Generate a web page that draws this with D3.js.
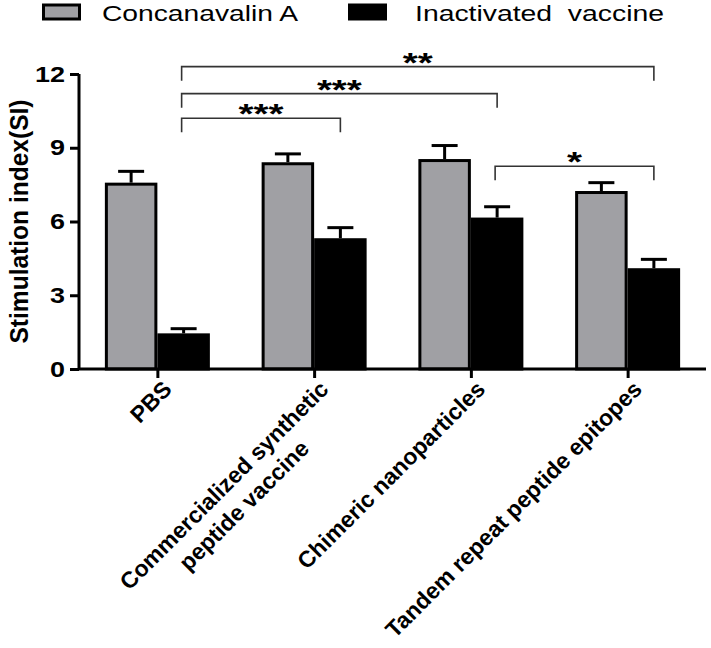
<!DOCTYPE html>
<html>
<head>
<meta charset="utf-8">
<script src="https://cdn.jsdelivr.net/npm/d3@7/dist/d3.min.js"></script>
<style>
  html, body { margin: 0; padding: 0; background: #fff; }
  svg text { font-family: "Liberation Sans", Arial, sans-serif; }
</style>
</head>
<body>
<div id="chart"></div>
<script>
// ---- data ----
const categories = ["PBS", "Commercialized synthetic|peptide vaccine", "Chimeric nanoparticles", "Tandem repeat peptide epitopes"];
const seriesNames = ["Concanavalin A", "Inactivated  vaccine"];
const conA = [7.58, 8.41, 8.54, 7.24];
const conAErr = [0.46, 0.34, 0.55, 0.34];
const inact = [1.45, 5.32, 6.16, 4.10];
const inactErr = [0.19, 0.43, 0.44, 0.36];
const yTicks = [0, 3, 6, 9, 12];
const yTitle = "Stimulation index(SI)";
// significance brackets: from category index to category index (Inactivated bars), level in SI units
const bracketFrom = [0, 0, 0, 2];
const bracketTo = [1, 2, 3, 3];
const bracketLevel = [10.2, 11.2, 12.3, 8.25];
const bracketLabel = ["***", "***", "**", "*"];

// ---- layout ----
const W = 711, H = 648;
const svg = d3.select("#chart").append("svg").attr("width", W).attr("height", H);

const y = d3.scaleLinear().domain([0, 12]).range([369, 74]);
const x = d3.scalePoint().domain(categories).range([79, 706]).padding(0.5);
const sub = d3.scaleBand().domain(seriesNames).range([-52.5, 52.5]);
const colors = d3.scaleOrdinal().domain(seriesNames).range(["#a0a0a4", "#000000"]);

const rows = [];
categories.forEach((c, i) => {
  rows.push({ c, s: seriesNames[0], v: conA[i], e: conAErr[i] });
  rows.push({ c, s: seriesNames[1], v: inact[i], e: inactErr[i] });
});

// error bars
const eb = svg.append("g").attr("stroke", "#000").attr("stroke-width", 3);
rows.forEach(d => {
  const cx = x(d.c) + sub(d.s) + sub.bandwidth() / 2;
  eb.append("line").attr("x1", cx).attr("x2", cx).attr("y1", y(d.v)).attr("y2", y(d.v + d.e));
  eb.append("line").attr("x1", cx - 13).attr("x2", cx + 13).attr("y1", y(d.v + d.e)).attr("y2", y(d.v + d.e));
});

// bars
svg.append("g").selectAll("rect").data(rows).join("rect")
  .attr("x", d => x(d.c) + sub(d.s) + 1.5)
  .attr("width", sub.bandwidth() - 3)
  .attr("y", d => y(d.v) + 1.5)
  .attr("height", d => y(0) - y(d.v) - 1.5)
  .attr("fill", d => colors(d.s))
  .attr("stroke", "#000").attr("stroke-width", 3);

// y axis
const yAxis = svg.append("g").attr("transform", "translate(79,0)")
  .call(d3.axisLeft(y).tickValues(yTicks).tickSize(9).tickPadding(5).tickFormat(d3.format("d")));
yAxis.select(".domain").attr("d", `M0,${y(12)}V${y(0)}`).attr("stroke-width", 3).attr("stroke", "#000");
yAxis.selectAll(".tick line").attr("stroke-width", 3).attr("stroke", "#000");
yAxis.selectAll(".tick text").attr("font-size", 22).attr("font-weight", "bold").attr("fill", "#000")
  .attr("font-family", "Liberation Sans, Arial, sans-serif")
  .each(function () { const t = d3.select(this); const n = t.text().length; t.attr("textLength", n * 15).attr("lengthAdjust", "spacingAndGlyphs"); });

// x axis
const xAxis = svg.append("g").attr("transform", `translate(0,${y(0)})`)
  .call(d3.axisBottom(x).tickSize(9).tickFormat(""));
xAxis.select(".domain").attr("d", "M79,0H706").attr("stroke-width", 3).attr("stroke", "#000");
xAxis.selectAll(".tick line").attr("stroke-width", 3).attr("stroke", "#000");

// x labels
const xl = svg.append("g");
categories.forEach(c => {
  const lines = c.split("|");
  const g = xl.append("g").attr("transform", `translate(${x(c) + 4},${y(0) + 10}) rotate(-45)`);
  const t1 = g.append("text").attr("text-anchor", "end").attr("dy", "0.72em")
    .attr("font-size", 23).attr("font-weight", "bold").text(lines[0]);
  if (lines.length > 1) {
    const w1 = t1.node().getComputedTextLength();
    g.append("text").attr("text-anchor", "middle").attr("x", -w1 / 2).attr("dy", "1.95em")
      .attr("font-size", 23).attr("font-weight", "bold").text(lines[1]);
  }
});

// y title
svg.append("text").attr("transform", `translate(28,${(y(0) + y(12)) / 2}) rotate(-90)`)
  .attr("text-anchor", "middle").attr("font-size", 25).attr("font-weight", "bold")
  .attr("textLength", 244).attr("lengthAdjust", "spacingAndGlyphs").text(yTitle);

// brackets
const br = svg.append("g");
bracketFrom.forEach((f, i) => {
  const x1 = x(categories[f]) + sub(seriesNames[1]) + sub.bandwidth() / 2 - 2;
  const x2 = x(categories[bracketTo[i]]) + sub(seriesNames[1]) + sub.bandwidth() / 2;
  const yy = y(bracketLevel[i]);
  br.append("path").attr("d", `M${x1},${yy + 14}V${yy}H${x2}V${yy + 14}`)
    .attr("fill", "none").attr("stroke", "#333").attr("stroke-width", 1.6);
  const lab = bracketLabel[i];
  br.append("text").attr("x", (x1 + x2) / 2).attr("y", yy + 5).attr("text-anchor", "middle")
    .attr("font-size", 28).attr("font-weight", "bold")
    .attr("textLength", lab.length * 15).attr("lengthAdjust", "spacingAndGlyphs").text(lab);
});

// legend
const lg = svg.append("g");
const legX = [42, 348], legTX = [102, 415], legTL = [196, 249];
seriesNames.forEach((s, i) => {
  lg.append("rect").attr("x", legX[i] + 1.5).attr("y", 5).attr("width", 36).attr("height", 14)
    .attr("fill", colors(s)).attr("stroke", "#000").attr("stroke-width", 3);
  lg.append("text").attr("x", legTX[i]).attr("y", 21).attr("font-size", 22)
    .style("white-space", "pre")
    .attr("textLength", legTL[i]).attr("lengthAdjust", "spacingAndGlyphs").text(s);
});
</script>
</body>
</html>
